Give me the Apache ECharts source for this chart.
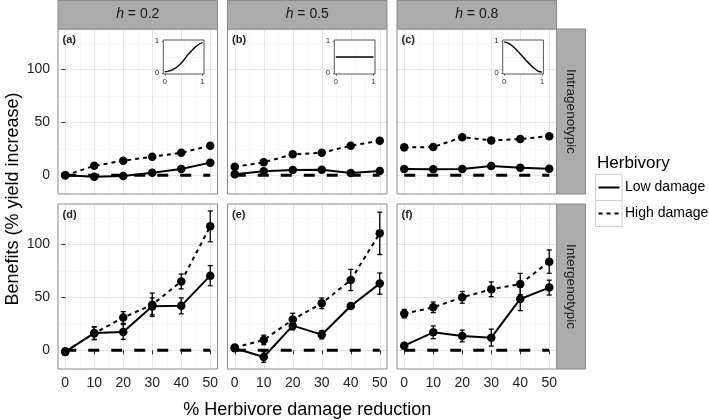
<!DOCTYPE html>
<html><head><meta charset="utf-8">
<script src="https://cdn.jsdelivr.net/npm/echarts@6/dist/echarts.min.js"></script>
<style>html,body{margin:0;padding:0;background:#fff}#c{width:709px;height:420px}</style>
</head><body><div id="c"></div>
<script>
// ---------------- data ----------------
const xValues = [0, 10, 20, 30, 40, 50];
const hLabels = ['0.2', '0.5', '0.8'];
const rowLabels = ['Intragenotypic', 'Intergenotypic'];
const panelTags = [['(a)', '(b)', '(c)'], ['(d)', '(e)', '(f)']];
const seriesNames = ['Low damage', 'High damage'];

// Intragenotypic (rows: h = 0.2, 0.5, 0.8)
const intraLow = [
  [0, -1.3, -0.7, 2.5, 6, 12],
  [1, 3.8, 5, 5.3, 2.2, 4],
  [6, 5.7, 6, 8.8, 7.2, 6.2]
];
const intraHigh = [
  [0, 9, 13.8, 17.6, 21.3, 28],
  [8, 12.3, 19.8, 21.3, 28, 32.6],
  [26.4, 26.7, 36, 33, 34.2, 37]
];
// Intergenotypic
const interLow = [
  [-1.5, 16.4, 17.4, 41.5, 42, 70.5],
  [2, -6.3, 23.3, 14.8, 41.8, 63],
  [4.4, 17, 13.6, 12, 48.5, 59.2]
];
const interLowErr = [
  [3, 6, 7, 8, 7.5, 9.5],
  [2, 5, 4, 4, 2, 10],
  [3, 6, 5.5, 8, 11, 7]
];
const interHigh = [
  [-1, 16, 31, 43, 65, 117],
  [2.6, 9.8, 29, 44.4, 66.4, 110.4],
  [34.6, 40.6, 50, 57.6, 62.6, 83.7]
];
const interHighErr = [
  [3, 6, 5.5, 11, 7, 14.5],
  [2, 4.5, 6, 5, 10, 20],
  [4, 5, 5.5, 7, 10, 11]
];
// reference line (no benefit)
const zeroLine = [[0, 0], [50, 0]];

// inset curves (heritability-dependent response)
const insetX = [0, 0.1, 0.2, 0.3, 0.4, 0.5, 0.6, 0.7, 0.8, 0.9, 1];
const insetY = [
  [0.04, 0.06, 0.1, 0.17, 0.27, 0.4, 0.55, 0.68, 0.8, 0.89, 0.95],
  [0.5, 0.5, 0.5, 0.5, 0.5, 0.5, 0.5, 0.5, 0.5, 0.5, 0.5],
  [0.97, 0.93, 0.86, 0.76, 0.63, 0.5, 0.37, 0.25, 0.14, 0.06, 0.03]
];

// tick labels
const xTicks = [0, 10, 20, 30, 40, 50];
const xMinor = [5, 15, 25, 35, 45];
const yTicks = [0, 50, 100];
const yMinor = [25, 75, 125];
const insetTicks = [0, 1];
const insetGrid = [0.5];

// ---------------- layout ----------------
const FONT = '"Liberation Sans", Arial, Helvetica, sans-serif';
const panelLeft = [58, 227.5, 397], panelW = 159.5;
const rowTop = [29, 204], panelH = 165;
const insetLeft = [163.3, 334.3, 502.7], insetTop = 40, insetW = 40.7, insetH = 34;
const BORDER = '#8a8a8a', STRIP = '#ababab';

const chart = echarts.init(document.getElementById('c'), null, {renderer: 'canvas'});

const grids = [], xAxes = [], yAxes = [], series = [], graphics = [];

function bgRenderer(xMaj, xMin, yMaj, yMin, borderColor, majorColor, minorColor) {
  return function (params, api) {
    const cs = params.coordSys;
    const kids = [{type: 'rect', shape: {x: cs.x, y: cs.y, width: cs.width, height: cs.height}, style: {fill: '#fff'}}];
    xMin.forEach(v => { const px = Math.round(api.coord([v, 0])[0]) + 0.5;
      kids.push({type: 'line', shape: {x1: px, y1: cs.y, x2: px, y2: cs.y + cs.height}, style: {stroke: minorColor, lineWidth: 0.6}}); });
    yMin.forEach(v => { const py = Math.round(api.coord([0, v])[1]) + 0.5;
      kids.push({type: 'line', shape: {x1: cs.x, y1: py, x2: cs.x + cs.width, y2: py}, style: {stroke: minorColor, lineWidth: 0.6}}); });
    xMaj.forEach(v => { const px = Math.round(api.coord([v, 0])[0]) + 0.5;
      kids.push({type: 'line', shape: {x1: px, y1: cs.y, x2: px, y2: cs.y + cs.height}, style: {stroke: majorColor, lineWidth: 1}}); });
    yMaj.forEach(v => { const py = Math.round(api.coord([0, v])[1]) + 0.5;
      kids.push({type: 'line', shape: {x1: cs.x, y1: py, x2: cs.x + cs.width, y2: py}, style: {stroke: majorColor, lineWidth: 1}}); });
    kids.push({type: 'rect', shape: {x: cs.x, y: cs.y, width: cs.width, height: cs.height}, style: {fill: 'none', stroke: borderColor, lineWidth: 1}});
    return {type: 'group', children: kids};
  };
}

function errRenderer(params, api) {
  const x = api.value(0), lo = api.value(1), hi = api.value(2);
  const p1 = api.coord([x, lo]), p2 = api.coord([x, hi]);
  const w = 2.5, st = {stroke: '#000', lineWidth: 1.3};
  return {type: 'group', children: [
    {type: 'line', shape: {x1: p1[0], y1: p1[1], x2: p2[0], y2: p2[1]}, style: st},
    {type: 'line', shape: {x1: p1[0] - w, y1: p1[1], x2: p1[0] + w, y2: p1[1]}, style: st},
    {type: 'line', shape: {x1: p2[0] - w, y1: p2[1], x2: p2[0] + w, y2: p2[1]}, style: st}
  ]};
}

for (let r = 0; r < 2; r++) {
  for (let c = 0; c < 3; c++) {
    const gi = grids.length;
    grids.push({left: panelLeft[c], top: rowTop[r], width: panelW, height: panelH, show: false, containLabel: false, outerBoundsMode: 'none'});
    xAxes.push({gridIndex: gi, type: 'value', min: -2.5, max: 52.5,
      axisLine: {show: false}, splitLine: {show: false},
      axisTick: {show: r === 1, customValues: xTicks, length: 4, lineStyle: {color: '#333', width: 1}},
      axisLabel: {show: r === 1, customValues: xTicks, margin: 7, fontSize: 14, color: '#222', fontFamily: FONT}});
    yAxes.push({gridIndex: gi, type: 'value', min: -17.6, max: 138.1,
      axisLine: {show: false}, splitLine: {show: false},
      axisTick: {show: c === 0, customValues: yTicks, length: 4, lineStyle: {color: '#333', width: 1}},
      axisLabel: {show: c === 0, customValues: yTicks, margin: 8, fontSize: 14, color: '#222', fontFamily: FONT}});

    series.push({type: 'custom', xAxisIndex: gi, yAxisIndex: gi, silent: true, z: 0,
      data: [[0, 0]], renderItem: bgRenderer(xTicks, xMinor, yTicks, yMinor, BORDER, '#e6e6e6', '#f2f2f2')});

    series.push({type: 'line', xAxisIndex: gi, yAxisIndex: gi, data: zeroLine, symbol: 'none', silent: true, z: 1,
      lineStyle: {color: '#000', width: 3, type: [11, 12]}});

    const low = r === 0 ? intraLow[c] : interLow[c];
    const high = r === 0 ? intraHigh[c] : interHigh[c];
    if (r === 1) {
      series.push({type: 'custom', xAxisIndex: gi, yAxisIndex: gi, z: 2, silent: true,
        encode: {x: 0, y: [1, 2]}, renderItem: errRenderer,
        data: xValues.map((x, i) => [x, interLow[c][i] - interLowErr[c][i], interLow[c][i] + interLowErr[c][i]])});
      series.push({type: 'custom', xAxisIndex: gi, yAxisIndex: gi, z: 2, silent: true,
        encode: {x: 0, y: [1, 2]}, renderItem: errRenderer,
        data: xValues.map((x, i) => [x, interHigh[c][i] - interHighErr[c][i], interHigh[c][i] + interHighErr[c][i]])});
    }
    series.push({name: seriesNames[0], type: 'line', xAxisIndex: gi, yAxisIndex: gi, z: 3,
      data: xValues.map((x, i) => [x, low[i]]), symbol: 'circle', symbolSize: 8.5, showSymbol: true,
      itemStyle: {color: '#000'}, lineStyle: {color: '#000', width: 2}});
    series.push({name: seriesNames[1], type: 'line', xAxisIndex: gi, yAxisIndex: gi, z: 3,
      data: xValues.map((x, i) => [x, high[i]]), symbol: 'circle', symbolSize: 8.5, showSymbol: true,
      itemStyle: {color: '#000'}, lineStyle: {color: '#000', width: 2, type: [4, 4]}});

    graphics.push({type: 'text', left: panelLeft[c] + 4.5, top: rowTop[r] + 5, z: 10,
      style: {text: panelTags[r][c], font: 'bold 11px ' + FONT, fill: '#222'}});
  }
}

// insets
for (let c = 0; c < 3; c++) {
  const gi = grids.length;
  grids.push({left: insetLeft[c], top: insetTop, width: insetW, height: insetH, show: false, containLabel: false, outerBoundsMode: 'none'});
  xAxes.push({gridIndex: gi, type: 'value', min: -0.04, max: 1.04,
    axisLine: {show: false}, splitLine: {show: false},
    axisTick: {show: true, customValues: insetTicks, length: 2.5, lineStyle: {color: '#333', width: 1}},
    axisLabel: {show: true, customValues: insetTicks, margin: 4, fontSize: 8, color: '#333', fontFamily: FONT}});
  yAxes.push({gridIndex: gi, type: 'value', min: -0.03, max: 1.03,
    axisLine: {show: false}, splitLine: {show: false},
    axisTick: {show: true, customValues: insetTicks, length: 2.5, lineStyle: {color: '#333', width: 1}},
    axisLabel: {show: true, customValues: insetTicks, margin: 4, fontSize: 8, color: '#333', fontFamily: FONT}});
  series.push({type: 'custom', xAxisIndex: gi, yAxisIndex: gi, silent: true, z: 4,
    data: [[0.5, 0.5]], renderItem: bgRenderer([], insetGrid, [], insetGrid, '#555', '#eee', '#ececec')});
  series.push({type: 'line', xAxisIndex: gi, yAxisIndex: gi, silent: true, z: 5, smooth: true,
    data: insetX.map((x, i) => [x, insetY[c][i]]), symbol: 'none',
    lineStyle: {color: '#000', width: 1.4}});
}

// strips
for (let c = 0; c < 3; c++) {
  graphics.push({type: 'rect', shape: {x: panelLeft[c], y: 0.5, width: panelW, height: rowTop[0] - 0.5},
    style: {fill: STRIP, stroke: BORDER, lineWidth: 1}, z: 1});
  graphics.push({type: 'text', x: panelLeft[c] + panelW / 2, y: 14.5, z: 2,
    style: {text: '{i|h} = ' + hLabels[c], align: 'center', verticalAlign: 'middle', font: '14px ' + FONT, fill: '#1a1a1a',
      rich: {i: {fontStyle: 'italic', fontSize: 14, fontFamily: FONT, fill: '#1a1a1a'}}}});
}
for (let r = 0; r < 2; r++) {
  const sx = panelLeft[2] + panelW;
  graphics.push({type: 'rect', shape: {x: sx, y: rowTop[r], width: 29, height: panelH},
    style: {fill: STRIP, stroke: BORDER, lineWidth: 1}, z: 1});
  graphics.push({type: 'text', x: sx + 14.5, y: rowTop[r] + panelH / 2, rotation: -Math.PI / 2, z: 2,
    style: {text: rowLabels[r], align: 'center', verticalAlign: 'middle', font: '13.5px ' + FONT, fill: '#1a1a1a'}});
}

// axis titles
graphics.push({type: 'text', x: (panelLeft[0] + panelLeft[2] + panelW) / 2, y: 410, z: 2,
  style: {text: '% Herbivore damage reduction', align: 'center', verticalAlign: 'middle', font: '18px ' + FONT, fill: '#000'}});
graphics.push({type: 'text', x: 13, y: (rowTop[0] + rowTop[1] + panelH) / 2, rotation: Math.PI / 2, z: 2,
  style: {text: 'Benefits (% yield increase)', align: 'center', verticalAlign: 'middle', font: '18px ' + FONT, fill: '#000'}});

// legend
graphics.push({type: 'text', x: 597, y: 163, z: 2,
  style: {text: 'Herbivory', align: 'left', verticalAlign: 'middle', font: '17px ' + FONT, fill: '#000'}});
[0, 1].forEach(k => {
  const y0 = 174 + k * 26;
  graphics.push({type: 'rect', shape: {x: 595.5, y: y0 + 0.5, width: 26.5, height: 26}, style: {fill: '#fff', stroke: '#cfcfcf', lineWidth: 1}, z: 1});
  graphics.push({type: 'line', shape: {x1: 598.5, y1: y0 + 13.5, x2: 619.5, y2: y0 + 13.5},
    style: {stroke: '#000', lineWidth: 2, lineDash: k === 0 ? null : [4, 4]}, z: 2});
  graphics.push({type: 'text', x: 625, y: y0 + 13.5, z: 2,
    style: {text: seriesNames[k], align: 'left', verticalAlign: 'middle', font: '14px ' + FONT, fill: '#000'}});
});

chart.setOption({
  animation: false,
  backgroundColor: '#fff',
  textStyle: {fontFamily: FONT},
  grid: grids, xAxis: xAxes, yAxis: yAxes, series: series, graphic: graphics
});
</script></body></html>
